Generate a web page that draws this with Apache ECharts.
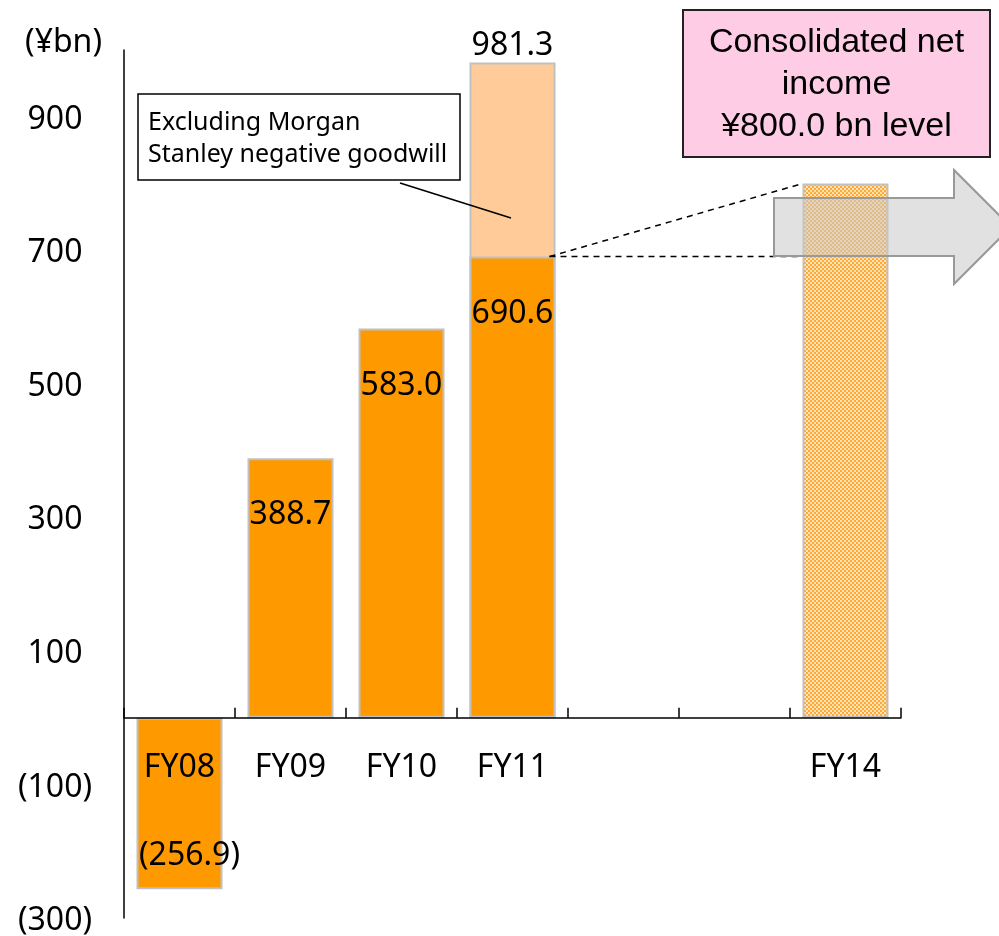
<!DOCTYPE html>
<html><head><meta charset="utf-8">
<script src="https://cdn.jsdelivr.net/npm/echarts@6/dist/echarts.min.js"></script>
<style>html,body{margin:0;padding:0;background:#fff}#c{width:999px;height:936px}</style>
</head><body><div id="c"></div>
<script>
// ---- data ----
const categories = ['FY08', 'FY09', 'FY10', 'FY11', '', '', 'FY14'];
const netIncome = [-256.9, 388.7, 583.0, 690.6, null, null, null];
const exclNegGoodwill = [null, null, null, 981.3, null, null, null];
const targetFY14 = [null, null, null, null, null, null, 800.0];
const yMin = -300, yMax = 1000, yInterval = 200;
const unitLabel = '(¥bn)';
const calloutLines = ['Excluding Morgan', 'Stanley negative goodwill'];
const targetLines = ['Consolidated net', 'income', '¥800.0 bn level'];

// ---- styles ----
const FONT = 'Noto Sans';
const BAR_W = 86;
const fmt = v => v < 0 ? '(' + Math.abs(v).toFixed(1) + ')' : v.toFixed(1);

const pc = document.createElement('canvas');
pc.width = 4; pc.height = 4;
const g = pc.getContext('2d');
g.fillStyle = '#FFAA33'; g.fillRect(0, 0, 4, 4);
g.fillStyle = '#FFE2B8'; g.fillRect(0, 0, 2, 2); g.fillRect(2, 2, 2, 2);

const chart = echarts.init(document.getElementById('c'), null, {renderer: 'canvas'});
const option = {
  animation: false,
  backgroundColor: '#fff',
  textStyle: {fontFamily: FONT, color: '#000'},
  grid: {left: 124, right: 98, top: 50, bottom: 18, containLabel: false, outerBoundsMode: 'none'},
  xAxis: {
    type: 'category',
    z: 5,
    data: categories,
    axisLine: {onZero: true, lineStyle: {color: '#000', width: 1.5}},
    axisTick: {show: true, inside: true, length: 10, lineStyle: {color: '#000', width: 1.5}},
    // labels sit just below the zero line (the axis line is drawn on zero)
    axisLabel: {margin: -166, fontSize: 32, color: '#000', fontFamily: FONT}
  },
  yAxis: {
    type: 'value',
    min: yMin, max: yMax, interval: yInterval,
    name: unitLabel,
    nameLocation: 'end',
    nameGap: 7,
    nameTextStyle: {fontSize: 32, color: '#000', fontFamily: FONT, align: 'right', verticalAlign: 'middle', padding: [0, 22, 0, 0]},
    axisLine: {show: true, lineStyle: {color: '#000', width: 1.5}},
    axisTick: {show: false},
    splitLine: {show: false},
    axisLabel: {
      align: 'center', verticalAlign: 'top', lineHeight: 6,
      margin: 69, fontSize: 32, color: '#000', fontFamily: FONT,
      showMaxLabel: false,
      formatter: v => v === yMax ? '' : (v < 0 ? '(' + Math.abs(v) + ')' : String(v))
    }
  },
  series: [
    {
      name: 'Excluding Morgan Stanley negative goodwill',
      type: 'bar', barWidth: BAR_W, barGap: '-100%',
      data: exclNegGoodwill,
      itemStyle: {color: '#FFCC99', borderColor: '#C0C0C0', borderWidth: 2},
      label: {show: true, position: 'top', distance: 1, fontSize: 32, color: '#000', fontFamily: FONT, formatter: p => fmt(p.value)}
    },
    {
      name: 'Consolidated net income',
      type: 'bar', barWidth: BAR_W, barGap: '-100%',
      data: netIncome.map(v => v !== null && v < 0
        ? {value: v, label: {position: 'insideBottom', distance: 17, offset: [10, 0]}}
        : v),
      itemStyle: {color: '#FF9900', borderColor: '#C0C0C0', borderWidth: 2},
      label: {show: true, position: 'insideTop', distance: 41, fontSize: 32, color: '#000', fontFamily: FONT, formatter: p => fmt(p.value)}
    },
    {
      name: 'FY14 target',
      type: 'bar', barWidth: BAR_W, barGap: '-100%',
      data: targetFY14,
      itemStyle: {color: {image: pc, repeat: 'repeat'}, borderColor: '#C0C0C0', borderWidth: 2},
      label: {show: false}
    }
  ]
};
chart.setOption(option);

// ---- annotations anchored to data positions ----
const px = (i, v) => chart.convertToPixel({gridIndex: 0}, [i, v]);
const p11 = px(3, netIncome[3]);
const p14top = px(6, targetFY14[6]);
const p14base = px(6, netIncome[3]);
const half = BAR_W / 2;
const dashStyle = {stroke: '#000', lineWidth: 1.5, lineDash: [6, 5]};

chart.setOption({
  graphic: [
    {type: 'line', z: 100, shape: {x1: p11[0] + half - 6, y1: p11[1], x2: p14top[0] - half, y2: p14top[1]}, style: dashStyle},
    {type: 'line', z: 100, shape: {x1: p11[0] + half - 6, y1: p11[1], x2: p14base[0] - half, y2: p14base[1]}, style: dashStyle},
    {type: 'polygon', z: 101,
      shape: {points: [[774, 198], [954, 198], [954, 170], [1011, 227], [954, 284], [954, 256], [774, 256]]},
      style: {fill: 'rgba(200,200,200,0.55)', stroke: '#999', lineWidth: 2}},
    {type: 'rect', z: 100, shape: {x: 138, y: 94, width: 322, height: 86},
      style: {fill: '#fff', stroke: '#000', lineWidth: 1.5}},
    {type: 'text', z: 101, x: 148, y: 107,
      style: {text: calloutLines.join('\n'), font: '25px "Noto Sans"', fill: '#000', lineHeight: 32, textAlign: 'left', textVerticalAlign: 'top'}},
    {type: 'line', z: 100, shape: {x1: 400, y1: 183, x2: 511, y2: 218}, style: {stroke: '#000', lineWidth: 1.5}},
    {type: 'rect', z: 100, shape: {x: 683, y: 10, width: 307, height: 147},
      style: {fill: '#FFCCE5', stroke: '#222', lineWidth: 2}},
    {type: 'text', z: 101, x: 836.5, y: 22,
      style: {text: targetLines.join('\n'), font: '34px "Liberation Sans"', fill: '#000', lineHeight: 42, textAlign: 'center', textVerticalAlign: 'top'}}
  ]
});
</script>
</body></html>
